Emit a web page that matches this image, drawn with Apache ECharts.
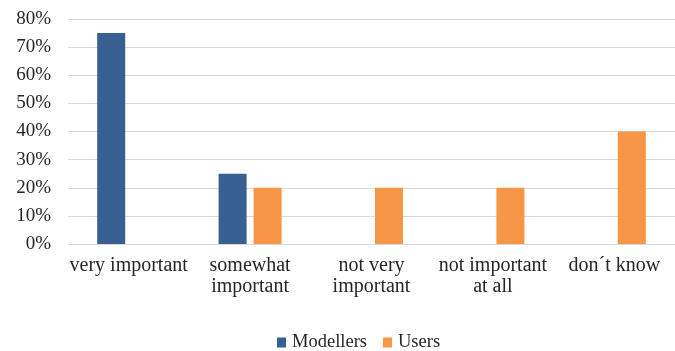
<!DOCTYPE html>
<html>
<head>
<meta charset="utf-8">
<script src="https://cdn.jsdelivr.net/npm/echarts@6/dist/echarts.min.js"></script>
<style>
  html, body { margin: 0; padding: 0; background: #fff; }
  #chart { width: 675px; height: 351px; }
</style>
</head>
<body>
<div id="chart"></div>
<script>
// Survey answers: share of respondents per answer
const categories = ['very important', 'somewhat\nimportant', 'not very\nimportant', 'not important\nat all', 'don\u00b4t know'];
const modellers = [75, 25, 0, 0, 0];
const users = [0, 20, 20, 20, 40];
const yTicks = { min: 0, max: 80, interval: 10 };

const serif = '"Liberation Serif", "DejaVu Serif", serif';

const chart = echarts.init(document.getElementById('chart'));
chart.setOption({
  animation: false,
  textStyle: { fontFamily: serif },
  grid: { left: 68, top: 19, width: 621, height: 225, containLabel: false },
  legend: {
    left: 272,
    top: 328,
    itemWidth: 9,
    itemHeight: 10,
    itemGap: 16,
    icon: 'rect',
    textStyle: { fontFamily: serif, fontSize: 18.5, color: '#262626', padding: [0, 0, 0, 1] },
    data: ['Modellers', 'Users']
  },
  xAxis: {
    type: 'category',
    data: categories,
    axisLine: { lineStyle: { color: '#D9D9D9', width: 1 } },
    axisTick: { show: false },
    axisLabel: { fontFamily: serif, fontSize: 20, color: '#262626', margin: 11, lineHeight: 21, interval: 0 }
  },
  yAxis: {
    type: 'value',
    min: yTicks.min,
    max: yTicks.max,
    interval: yTicks.interval,
    axisLine: { show: false },
    axisTick: { show: false },
    splitLine: { lineStyle: { color: '#D9D9D9', width: 1 } },
    axisLabel: { fontFamily: serif, fontSize: 19, color: '#262626', margin: 17, formatter: '{value}%' }
  },
  series: [
    {
      name: 'Modellers',
      type: 'bar',
      data: modellers,
      barWidth: 28,
      barGap: '25%',
      itemStyle: { color: '#375F91' }
    },
    {
      name: 'Users',
      type: 'bar',
      data: users,
      barWidth: 28,
      barGap: '25%',
      itemStyle: { color: '#F79646' }
    }
  ]
});
</script>
</body>
</html>
